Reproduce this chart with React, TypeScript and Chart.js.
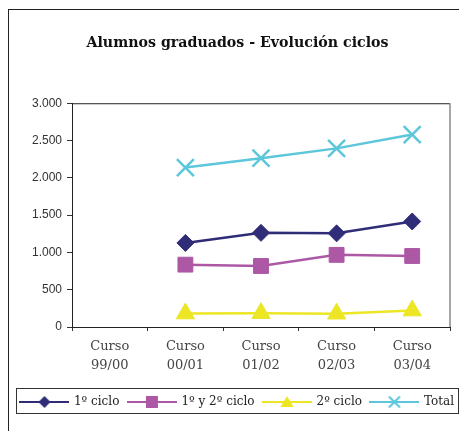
import React, { useEffect, useRef } from "react";
import { Chart, registerables } from "chart.js";

Chart.register(...registerables);

const categories: string[][] = [
  ["Curso", "99/00"],
  ["Curso", "00/01"],
  ["Curso", "01/02"],
  ["Curso", "02/03"],
  ["Curso", "03/04"],
];
const seriesNames = ["1º ciclo", "1º y 2º ciclo", "2º ciclo", "Total"];
const primerCiclo = [null, 1127, 1262, 1256, 1415];
const primerYSegundoCiclo = [null, 836, 818, 967, 952];
const segundoCiclo = [null, 180, 185, 178, 220];
const totalCiclos = [null, 2138, 2263, 2395, 2580];
const yMin = 0;
const yMax = 3000;
const yStep = 500;

const COLORS = ["#302d78", "#ad58a5", "#ece625", "#5cc7da"];
const STYLES = ["rectRot", "rect", "triangle", "crossRot"];

function fmt(v: number): string {
  return String(v).replace(/\B(?=(\d{3})+(?!\d))/g, ".");
}

function makeLegendImage(color: string, style: string): HTMLCanvasElement {
  const c = document.createElement("canvas");
  c.width = 50;
  c.height = 16;
  const ctx = c.getContext("2d")!;
  const cx = 25;
  const cy = 8;
  ctx.strokeStyle = color;
  ctx.fillStyle = color;
  ctx.lineWidth = 2;
  ctx.beginPath();
  ctx.moveTo(0, cy);
  ctx.lineTo(50, cy);
  ctx.stroke();
  ctx.beginPath();
  if (style === "rectRot") {
    ctx.moveTo(cx, cy - 6);
    ctx.lineTo(cx + 6, cy);
    ctx.lineTo(cx, cy + 6);
    ctx.lineTo(cx - 6, cy);
    ctx.closePath();
    ctx.fill();
  } else if (style === "rect") {
    ctx.rect(cx - 6, cy - 6, 12, 12);
    ctx.fill();
  } else if (style === "triangle") {
    ctx.moveTo(cx, cy - 6);
    ctx.lineTo(cx + 6.5, cy + 5);
    ctx.lineTo(cx - 6.5, cy + 5);
    ctx.closePath();
    ctx.fill();
  } else {
    ctx.lineWidth = 2;
    ctx.moveTo(cx - 5.5, cy - 5.5);
    ctx.lineTo(cx + 5.5, cy + 5.5);
    ctx.moveTo(cx + 5.5, cy - 5.5);
    ctx.lineTo(cx - 5.5, cy + 5.5);
    ctx.stroke();
  }
  return c;
}

const framePlugin = {
  id: "framePlugin",
  afterDraw(chart: any) {
    const ctx = chart.ctx;
    const a = chart.chartArea;
    ctx.save();
    ctx.strokeStyle = "#222";
    ctx.lineWidth = 1;
    ctx.beginPath();
    ctx.moveTo(a.left, a.top + 0.5);
    ctx.lineTo(a.right, a.top + 0.5);
    ctx.stroke();
    ctx.strokeStyle = "#8a8a8a";
    ctx.lineWidth = 1.5;
    ctx.beginPath();
    ctx.moveTo(a.right, a.top);
    ctx.lineTo(a.right, a.bottom);
    ctx.stroke();
    const hb = chart.legend && chart.legend.legendHitBoxes;
    if (hb && hb.length) {
      let l = Infinity, r = -Infinity, t = Infinity, b = -Infinity;
      hb.forEach((h: any) => {
        l = Math.min(l, h.left);
        r = Math.max(r, h.left + h.width);
        t = Math.min(t, h.top);
        b = Math.max(b, h.top + h.height);
      });
      ctx.strokeStyle = "#333";
      ctx.lineWidth = 1;
      ctx.strokeRect(Math.round(l - 5) + 0.5, Math.round(t - 8) + 0.5, Math.round(r - l + 9), Math.round(b - t + 13));
    }
    ctx.restore();
  },
};

export default function App() {
  const ref = useRef<HTMLCanvasElement | null>(null);
  useEffect(() => {
    if (!ref.current) return;
    const series = [primerCiclo, primerYSegundoCiclo, segundoCiclo, totalCiclos];
    const radii = [8.5, 10.5, 10.5, 12];
    const images = COLORS.map((c, i) => makeLegendImage(c, STYLES[i]));
    const chart = new Chart(ref.current, {
      type: "line",
      data: {
        labels: categories,
        datasets: series.map((d, i) => ({
          label: seriesNames[i],
          data: d,
          yAxisID: "y",
          borderColor: COLORS[i],
          backgroundColor: COLORS[i],
          borderWidth: 2.5,
          pointStyle: STYLES[i] as any,
          pointRadius: radii[i],
          pointBackgroundColor: COLORS[i],
          pointBorderColor: COLORS[i],
          pointBorderWidth: i === 3 ? 2.5 : 1,
          tension: 0,
          fill: false,
        })),
      },
      options: {
        animation: false,
        responsive: false,
        maintainAspectRatio: false,
        layout: { padding: { left: 5, right: 0, top: 0, bottom: 13 } },
        plugins: {
          title: {
            display: true,
            text: "Alumnos graduados - Evolución ciclos",
            color: "#111",
            font: { family: "DejaVu Serif", size: 14.2, weight: "bold", lineHeight: 1.2 },
            padding: { top: 34.6, bottom: 51.6 },
          },
          legend: {
            position: "bottom",
            labels: {
              usePointStyle: true,
              pointStyleWidth: 47,
              boxHeight: 12,
              padding: 9,
              color: "#222",
              font: { family: "DejaVu Serif", size: 12 },
              generateLabels: (ch: any) =>
                ch.data.datasets.map((ds: any, i: number) => ({
                  text: ds.label,
                  pointStyle: images[i],
                  fillStyle: COLORS[i],
                  strokeStyle: COLORS[i],
                  lineWidth: 0,
                  hidden: false,
                  datasetIndex: i,
                  fontColor: "#222",
                })),
            },
          },
          tooltip: { enabled: false },
        },
        scales: {
          x: {
            offset: true,
            grid: {
              offset: true,
              drawOnChartArea: false,
              drawTicks: true,
              tickLength: 4,
              tickColor: "#333",
            },
            border: { display: true, color: "#222", width: 1 },
            ticks: {
              color: "#444",
              font: { family: "DejaVu Serif", size: 13, lineHeight: 1.46 },
              padding: 6,
              maxRotation: 0,
              autoSkip: false,
            },
            afterFit: (s: any) => {
              s.height = 60;
            },
          },
          y: {
            min: yMin,
            max: yMax,
            grid: {
              drawOnChartArea: false,
              drawTicks: true,
              tickLength: 5,
              tickColor: "#333",
            },
            border: { display: true, color: "#222", width: 1 },
            ticks: {
              stepSize: yStep,
              color: "#333",
              padding: 5,
              font: { family: "Liberation Sans", size: 12 },
              callback: (v: any) => fmt(Number(v)),
            },
            afterFit: (s: any) => {
              s.width = 67;
            },
          },
          yRight: {
            type: "linear",
            position: "right",
            display: true,
            grid: { display: false, drawTicks: false },
            border: { display: false },
            ticks: { display: false },
            afterFit: (s: any) => {
              s.width = 20;
            },
          },
        },
      },
      plugins: [framePlugin],
    });
    return () => chart.destroy();
  }, []);

  return (
    <div
      style={{
        position: "fixed",
        left: 0,
        top: 0,
        width: 459,
        height: 431,
        overflow: "hidden",
        background: "#fff",
      }}
    >
      <div
        style={{
          position: "absolute",
          left: 8,
          top: 9,
          width: 480,
          height: 440,
          borderLeft: "1px solid #222",
          borderTop: "1px solid #222",
        }}
      />
      <canvas
        ref={ref}
        width={470}
        height={431}
        style={{ position: "absolute", left: 0, top: 0, width: 470, height: 431 }}
      />
    </div>
  );
}
